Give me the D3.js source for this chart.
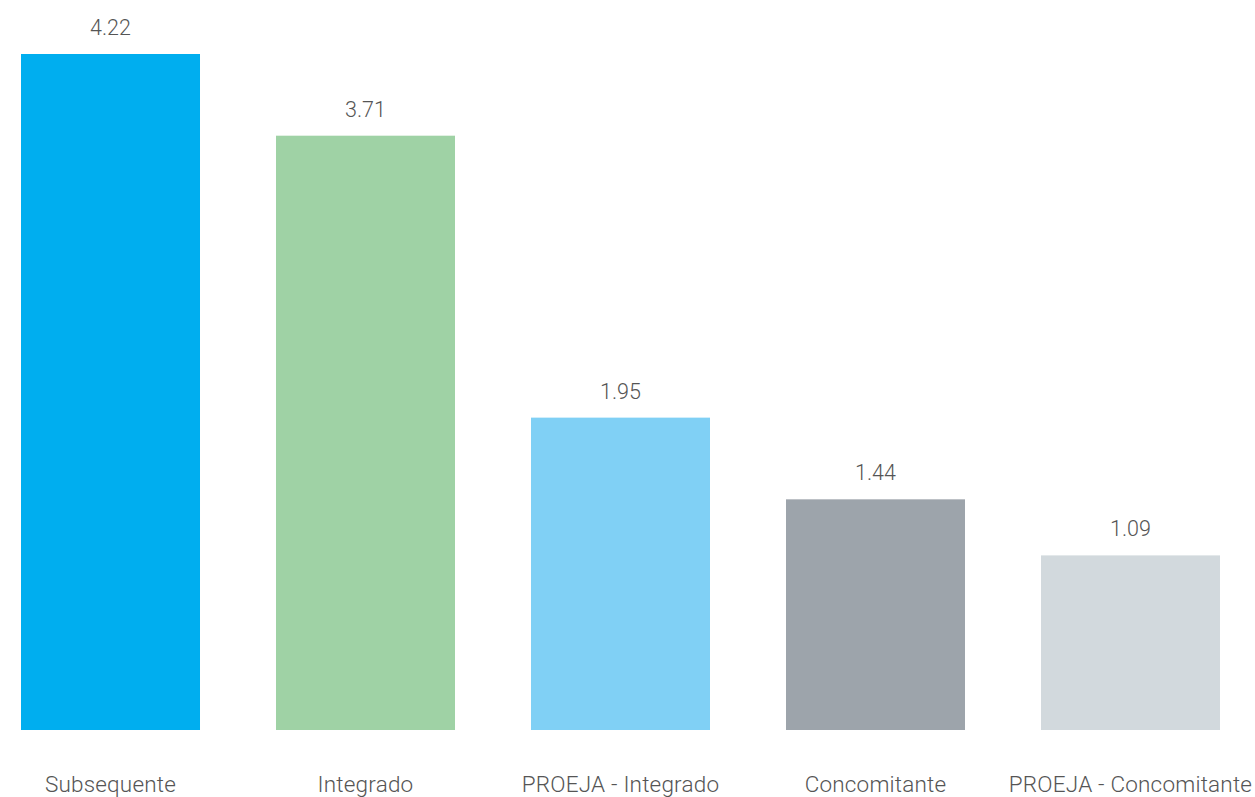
<!DOCTYPE html>
<html>
<head>
<meta charset="utf-8">
<script src="https://cdn.jsdelivr.net/npm/d3@7"></script>
<style>
  html, body { margin: 0; padding: 0; background: #ffffff; overflow: hidden; }
  svg text { font-family: Roboto, "Open Sans", sans-serif; font-weight: 300; fill: #555555; }
</style>
</head>
<body>
<script>
// Course modalities and their values
const categories = ["Subsequente", "Integrado", "PROEJA - Integrado", "Concomitante", "PROEJA - Concomitante"];
const values = [4.22, 3.71, 1.95, 1.44, 1.09];
const colors = ["#00aeef", "#9fd2a5", "#80d0f5", "#9da4ab", "#d2d9dd"];

const width = 1255, height = 797;
const baseY = 730, topY = 54;

const svg = d3.select("body").append("svg")
  .attr("width", width)
  .attr("height", height);

const x = d3.scaleBand()
  .domain(categories)
  .range([-17, 1258])
  .paddingInner(0.298)
  .paddingOuter(0.149);

const y = d3.scaleLinear()
  .domain([0, d3.max(values)])
  .range([baseY, topY]);

const data = categories.map((c, i) => ({ cat: c, value: values[i], color: colors[i] }));

// Bars
svg.selectAll("rect.bar")
  .data(data)
  .join("rect")
  .attr("class", "bar")
  .attr("x", d => x(d.cat))
  .attr("y", d => y(d.value))
  .attr("width", x.bandwidth())
  .attr("height", d => baseY - y(d.value))
  .attr("fill", d => d.color);

// Value labels above each bar
svg.selectAll("text.value")
  .data(data)
  .join("text")
  .attr("class", "value")
  .attr("x", d => x(d.cat) + x.bandwidth() / 2)
  .attr("y", d => y(d.value) - 19)
  .attr("text-anchor", "middle")
  .style("font-size", "21.5px")
  .text(d => d.value.toFixed(2));

// Category labels along the bottom
const xAxis = d3.axisBottom(x).tickSize(0).tickPadding(0);
const axisG = svg.append("g")
  .attr("transform", `translate(0, ${baseY})`)
  .call(xAxis);
axisG.select(".domain").remove();
axisG.selectAll("text")
  .attr("y", 62)
  .attr("dy", null)
  .style("font-size", "22.5px")
  .style("font-family", "Roboto, 'Open Sans', sans-serif")
  .style("font-weight", 300)
  .style("letter-spacing", "0.2px")
  .attr("fill", "#555555");
</script>
</body>
</html>
